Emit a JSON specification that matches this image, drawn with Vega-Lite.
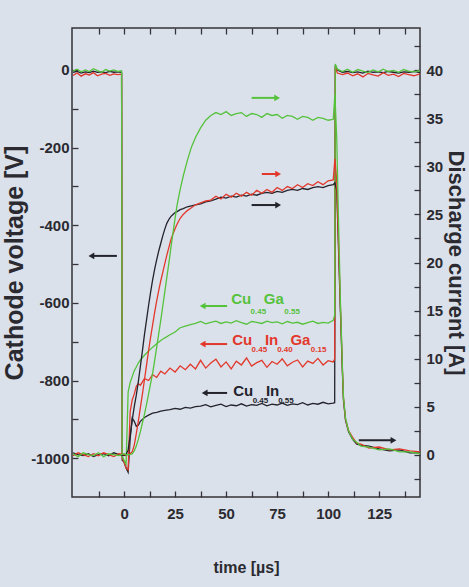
{
  "$schema": "https://vega.github.io/schema/vega-lite/v6.json",
  "width": 348,
  "height": 469,
  "autosize": "none",
  "padding": {"left": 72, "top": 28, "right": 49, "bottom": 90},
  "background": "#dbe1eb",
  "config": {
    "view": {"stroke": "#333338", "strokeWidth": 1.5},
    "font": "Liberation Sans",
    "axis": {
      "domain": false, "grid": false,
      "labelFont": "Liberation Sans", "labelFontWeight": "bold", "labelFontSize": 15,
      "labelColor": "#2a2a30", "tickColor": "#333338", "tickWidth": 1.3,
      "titleFontWeight": "bold", "titleColor": "#2a2a30",
      "labelOverlap": false, "labelFlush": false, "labelBound": false,
      "offset": -6, "tickSize": 6
    }
  },
  "datasets": {
    "volt": [
      {"t":-25,"G":-3,"R":-14,"B":-6},{"t":-23,"G":2,"R":-8,"B":-4},{"t":-21,"G":-5,"R":-16,"B":-8},
      {"t":-19,"G":0,"R":-10,"B":-5},{"t":-17,"G":-4,"R":-13,"B":-7},{"t":-15,"G":3,"R":-7,"B":-3},
      {"t":-13,"G":-2,"R":-15,"B":-6},{"t":-11,"G":-6,"R":-11,"B":-5},{"t":-9,"G":1,"R":-9,"B":-7},
      {"t":-7,"G":-3,"R":-14,"B":-4},{"t":-5,"G":0,"R":-10,"B":-6},{"t":-3,"G":-4,"R":-12,"B":-5},
      {"t":-1.2,"G":-2,"R":-11,"B":-6},{"t":-0.9,"G":-995,"R":-1000,"B":-1005},{"t":0,"G":-1005,"R":-1010,"B":-1010},
      {"t":1,"G":-1015,"R":-1025,"B":-1025},{"t":2,"G":-830,"R":-1030,"B":-1036},{"t":3,"G":-805,"R":-880,"B":-950},
      {"t":4,"G":-790,"R":-850,"B":-897},{"t":5,"G":-775,"R":-835,"B":-905},{"t":6,"G":-765,"R":-815,"B":-918},
      {"t":7,"G":-755,"R":-808,"B":-915},{"t":8,"G":-747,"R":-812,"B":-905},{"t":10,"G":-735,"R":-795,"B":-895},
      {"t":12,"G":-724,"R":-800,"B":-889},{"t":14,"G":-714,"R":-785,"B":-884},{"t":16,"G":-705,"R":-792,"B":-882},
      {"t":18,"G":-697,"R":-776,"B":-879},{"t":20,"G":-690,"R":-783,"B":-877},{"t":22.5,"G":-682,"R":-768,"B":-875},
      {"t":25,"G":-675,"R":-778,"B":-872},{"t":27.5,"G":-664,"R":-762,"B":-874},{"t":30,"G":-660,"R":-772,"B":-869},
      {"t":32.5,"G":-656,"R":-758,"B":-871},{"t":35,"G":-653,"R":-770,"B":-867},{"t":37.5,"G":-648,"R":-748,"B":-866},
      {"t":40,"G":-654,"R":-768,"B":-862},{"t":42.5,"G":-650,"R":-755,"B":-868},{"t":45,"G":-647,"R":-745,"B":-864},
      {"t":47.5,"G":-653,"R":-765,"B":-861},{"t":50,"G":-649,"R":-752,"B":-867},{"t":52.5,"G":-652,"R":-770,"B":-863},
      {"t":55,"G":-646,"R":-750,"B":-865},{"t":57.5,"G":-651,"R":-760,"B":-860},{"t":60,"G":-655,"R":-742,"B":-866},
      {"t":62.5,"G":-648,"R":-763,"B":-862},{"t":65,"G":-650,"R":-754,"B":-864},{"t":67.5,"G":-653,"R":-748,"B":-859},
      {"t":70,"G":-647,"R":-766,"B":-865},{"t":72.5,"G":-651,"R":-751,"B":-861},{"t":75,"G":-649,"R":-758,"B":-863},
      {"t":77.5,"G":-654,"R":-744,"B":-858},{"t":80,"G":-648,"R":-762,"B":-864},{"t":82.5,"G":-652,"R":-753,"B":-860},
      {"t":85,"G":-650,"R":-747,"B":-862},{"t":87.5,"G":-655,"R":-765,"B":-857},{"t":90,"G":-651,"R":-750,"B":-863},
      {"t":92.5,"G":-647,"R":-756,"B":-859},{"t":95,"G":-653,"R":-743,"B":-861},{"t":97.5,"G":-650,"R":-760,"B":-856},
      {"t":100,"G":-652,"R":-749,"B":-860},{"t":102.5,"G":-645,"R":-752,"B":-858},{"t":103.2,"G":-632,"R":-745,"B":-857},
      {"t":103.5,"G":15,"R":8,"B":12},{"t":104.5,"G":2,"R":-8,"B":0},{"t":107,"G":-4,"R":-12,"B":-6},
      {"t":109.5,"G":2,"R":-8,"B":-4},{"t":112,"G":-6,"R":-15,"B":-7},{"t":114.5,"G":1,"R":-10,"B":-5},
      {"t":117,"G":-3,"R":-18,"B":-8},{"t":119.5,"G":-7,"R":-9,"B":-3},{"t":122,"G":0,"R":-13,"B":-6},
      {"t":124.5,"G":-5,"R":-16,"B":-5},{"t":127,"G":2,"R":-7,"B":-7},{"t":129.5,"G":-4,"R":-14,"B":-4},
      {"t":132,"G":-1,"R":-11,"B":-6},{"t":134.5,"G":-6,"R":-17,"B":-8},{"t":137,"G":1,"R":-9,"B":-5},
      {"t":139.5,"G":-3,"R":-12,"B":-6},{"t":142,"G":-5,"R":-15,"B":-4},{"t":145,"G":-2,"R":-10,"B":-7}
    ],
    "curr": [
      {"t":-25,"G":0.1,"R":-0.1,"B":0.2},{"t":-22.5,"G":-0.2,"R":0.2,"B":0},{"t":-20,"G":0.2,"R":0,"B":-0.1},
      {"t":-17.5,"G":0,"R":-0.2,"B":0.1},{"t":-15,"G":-0.1,"R":0.1,"B":-0.2},{"t":-12.5,"G":0.2,"R":-0.1,"B":0},
      {"t":-10,"G":-0.2,"R":0.2,"B":0.1},{"t":-7.5,"G":0.1,"R":0,"B":-0.1},{"t":-5,"G":0,"R":-0.2,"B":0.2},
      {"t":-2.5,"G":-0.1,"R":0.1,"B":0},{"t":0,"G":0.1,"R":0,"B":-0.1},{"t":1,"G":0,"R":0,"B":0},
      {"t":2,"G":0,"R":0,"B":0.5},{"t":3,"G":0,"R":0.1,"B":2},{"t":4,"G":0.1,"R":0.3,"B":3.6},
      {"t":5,"G":0.4,"R":1.0,"B":5.0},{"t":6,"G":0.9,"R":2.2,"B":6.2},{"t":7,"G":1.6,"R":3.5,"B":7.6},
      {"t":8,"G":2.4,"R":4.9,"B":9.2},{"t":9,"G":3.3,"R":6.3,"B":10.8},{"t":10,"G":4.2,"R":7.8,"B":12.5},
      {"t":11,"G":5.2,"R":9.3,"B":14.0},{"t":12,"G":6.3,"R":10.8,"B":15.5},{"t":13,"G":7.4,"R":12.2,"B":16.9},
      {"t":14,"G":8.5,"R":13.5,"B":18.2},{"t":15,"G":9.8,"R":14.8,"B":19.3},{"t":16,"G":11.2,"R":16.0,"B":20.3},
      {"t":17,"G":12.6,"R":17.1,"B":21.2},{"t":18,"G":14.0,"R":18.1,"B":22.0},{"t":19,"G":15.5,"R":19.0,"B":22.8},
      {"t":20,"G":17.0,"R":19.9,"B":23.5},{"t":21,"G":18.5,"R":20.8,"B":24.1},{"t":22,"G":20.0,"R":21.6,"B":24.5},
      {"t":23,"G":21.6,"R":22.4,"B":24.8},{"t":24,"G":23.1,"R":23.0,"B":25.0},{"t":25,"G":24.6,"R":23.5,"B":25.2},
      {"t":26,"G":26.0,"R":24.0,"B":25.3},{"t":27.5,"G":27.6,"R":24.6,"B":25.5},{"t":29,"G":29.0,"R":25.0,"B":25.6},
      {"t":31,"G":30.6,"R":25.4,"B":25.8},{"t":33,"G":32.0,"R":25.7,"B":25.9},{"t":35,"G":33.0,"R":26.0,"B":26.0},
      {"t":37.5,"G":34.0,"R":26.2,"B":26.1},{"t":40,"G":34.8,"R":26.4,"B":26.3},{"t":42.5,"G":35.3,"R":26.5,"B":26.4},
      {"t":45,"G":35.6,"R":26.9,"B":26.6},{"t":47.5,"G":35.4,"R":26.6,"B":26.8},{"t":50,"G":35.7,"R":27.1,"B":26.7},
      {"t":52.5,"G":35.3,"R":26.8,"B":26.9},{"t":55,"G":35.5,"R":27.2,"B":26.8},{"t":57.5,"G":35.6,"R":26.9,"B":27.0},
      {"t":60,"G":35.2,"R":27.3,"B":26.9},{"t":62.5,"G":35.5,"R":27.0,"B":27.1},{"t":65,"G":35.4,"R":27.5,"B":27.0},
      {"t":67.5,"G":35.1,"R":27.2,"B":27.2},{"t":70,"G":35.5,"R":27.6,"B":27.3},{"t":72.5,"G":35.3,"R":27.3,"B":27.2},
      {"t":75,"G":35.4,"R":27.8,"B":27.4},{"t":77.5,"G":35.0,"R":27.5,"B":27.3},{"t":80,"G":35.3,"R":27.9,"B":27.5},
      {"t":82.5,"G":35.2,"R":27.7,"B":27.6},{"t":85,"G":34.9,"R":28.1,"B":27.5},{"t":87.5,"G":35.2,"R":27.8,"B":27.7},
      {"t":90,"G":35.1,"R":28.2,"B":27.6},{"t":92.5,"G":34.8,"R":28.0,"B":27.8},{"t":95,"G":35.1,"R":28.4,"B":27.9},
      {"t":97.5,"G":35.0,"R":28.1,"B":27.8},{"t":100,"G":34.8,"R":28.5,"B":28.0},{"t":102.5,"G":34.9,"R":28.6,"B":28.1},
      {"t":103.3,"G":37.5,"R":30.8,"B":28.3},{"t":104.2,"G":33,"R":28.5,"B":27.5},{"t":105,"G":25,"R":22.5,"B":22},
      {"t":106,"G":16,"R":15.5,"B":15},{"t":107,"G":9,"R":8.8,"B":8.5},{"t":107.5,"G":6,"R":5.9,"B":5.7},
      {"t":108.5,"G":3.8,"R":3.7,"B":3.6},{"t":110,"G":2.5,"R":2.5,"B":2.4},{"t":112,"G":1.6,"R":1.8,"B":1.6},
      {"t":114,"G":1.3,"R":1.2,"B":1.1},{"t":116,"G":0.9,"R":1.1,"B":1.0},{"t":120,"G":0.8,"R":0.7,"B":0.9},
      {"t":125,"G":0.5,"R":0.8,"B":0.6},{"t":130,"G":0.6,"R":0.5,"B":0.4},{"t":135,"G":0.3,"R":0.6,"B":0.5},
      {"t":140,"G":0.3,"R":0.4,"B":0.2},{"t":145,"G":0.1,"R":0.3,"B":0.2}
    ],
    "arrows": [
      {"t":62.5,"t2":75,"v":-72,"m":"G"},
      {"t":67.5,"t2":75.5,"v":-268,"m":"R"},
      {"t":62.5,"t2":75.5,"v":-348,"m":"B"},
      {"t":-3.5,"t2":-16,"v":-479,"m":"B"},
      {"t":50.5,"t2":38.5,"v":-608,"m":"G"},
      {"t":50.5,"t2":38.5,"v":-706,"m":"R"},
      {"t":50.5,"t2":39.5,"v":-832,"m":"B"},
      {"t":115,"t2":132,"v":-954,"m":"B"}
    ],
    "heads": [
      {"t":75,"v":-72,"m":"G","d":"R"},
      {"t":75.5,"v":-268,"m":"R","d":"R"},
      {"t":75.5,"v":-348,"m":"B","d":"R"},
      {"t":-16,"v":-479,"m":"B","d":"L"},
      {"t":38.5,"v":-608,"m":"G","d":"L"},
      {"t":38.5,"v":-706,"m":"R","d":"L"},
      {"t":39.5,"v":-832,"m":"B","d":"L"},
      {"t":132,"v":-954,"m":"B","d":"R"}
    ],
    "labels": [
      {"t":52.5,"v":-591,"s":"Cu","m":"G","k":"main"},
      {"t":62,"v":-623,"s":"0.45","m":"G","k":"sub"},
      {"t":68.5,"v":-591,"s":"Ga","m":"G","k":"main"},
      {"t":78.5,"v":-623,"s":"0.55","m":"G","k":"sub"},
      {"t":53,"v":-695,"s":"Cu","m":"R","k":"main"},
      {"t":62.5,"v":-721,"s":"0.45","m":"R","k":"sub"},
      {"t":69,"v":-695,"s":"In","m":"R","k":"main"},
      {"t":75,"v":-721,"s":"0.40","m":"R","k":"sub"},
      {"t":81.5,"v":-695,"s":"Ga","m":"R","k":"main"},
      {"t":91.5,"v":-721,"s":"0.15","m":"R","k":"sub"},
      {"t":53.5,"v":-827,"s":"Cu","m":"B","k":"main"},
      {"t":63,"v":-853,"s":"0.45","m":"B","k":"sub"},
      {"t":69.5,"v":-827,"s":"In","m":"B","k":"main"},
      {"t":75.5,"v":-853,"s":"0.55","m":"B","k":"sub"}
    ]
  },
  "layer": [
    {
      "encoding": {
        "x": {
          "field": "t", "type": "quantitative",
          "scale": {"domain": [-25.5, 145], "nice": false, "zero": false},
          "title": "time [µs]",
          "axis": {
            "values": [-12.5,0,12.5,25,37.5,50,62.5,75,87.5,100,112.5,125,137.5],
            "labelExpr": "datum.value % 25 === 0 ? '' + datum.value : ''",
            "labelPadding": 9,
            "titleFont": "Liberation Sans", "titleFontSize": 16, "titlePadding": 38
          }
        },
        "y": {
          "field": "v", "type": "quantitative",
          "scale": {"domain": [-1100, 108], "nice": false, "zero": false},
          "title": "Cathode voltage [V]",
          "axis": {
            "values": [-1000,-900,-800,-700,-600,-500,-400,-300,-200,-100,0],
            "labelExpr": "datum.value % 200 === 0 ? '' + datum.value : ''",
            "labelPadding": 3,
            "titleFont": "Liberation Sans", "titleFontSize": 25, "titlePadding": 3
          }
        }
      },
      "layer": [
        {
          "data": {"name": "volt"},
          "transform": [{"fold": ["B", "R", "G"], "as": ["m", "v"]}],
          "mark": {"type": "line", "strokeWidth": 1.3},
          "encoding": {
            "color": {"field": "m", "type": "nominal", "legend": null,
              "scale": {"domain": ["G", "R", "B"], "range": ["#55c23c", "#e2382b", "#23232b"]}}
          }
        },
        {
          "data": {"name": "arrows"},
          "mark": {"type": "rule", "strokeWidth": 2},
          "encoding": {
            "x2": {"field": "t2"},
            "color": {"field": "m", "type": "nominal", "legend": null,
              "scale": {"domain": ["G", "R", "B"], "range": ["#55c23c", "#e2382b", "#23232b"]}}
          }
        },
        {
          "data": {"name": "heads"},
          "mark": {"type": "point", "filled": true, "opacity": 1, "size": 45},
          "encoding": {
            "shape": {"field": "d", "type": "nominal", "legend": null,
              "scale": {"domain": ["L", "R"], "range": ["triangle-left", "triangle-right"]}},
            "color": {"field": "m", "type": "nominal", "legend": null,
              "scale": {"domain": ["G", "R", "B"], "range": ["#55c23c", "#e2382b", "#23232b"]}}
          }
        },
        {
          "data": {"name": "labels"},
          "transform": [{"filter": "datum.k === 'main'"}],
          "mark": {"type": "text", "align": "left", "baseline": "middle", "font": "Liberation Sans", "fontWeight": "bold", "fontSize": 15},
          "encoding": {
            "text": {"field": "s"},
            "color": {"field": "m", "type": "nominal", "legend": null,
              "scale": {"domain": ["G", "R", "B"], "range": ["#55c23c", "#e2382b", "#23232b"]}}
          }
        },
        {
          "data": {"name": "labels"},
          "transform": [{"filter": "datum.k === 'sub'"}],
          "mark": {"type": "text", "align": "left", "baseline": "middle", "font": "Liberation Sans", "fontWeight": "bold", "fontSize": 8},
          "encoding": {
            "text": {"field": "s"},
            "color": {"field": "m", "type": "nominal", "legend": null,
              "scale": {"domain": ["G", "R", "B"], "range": ["#55c23c", "#e2382b", "#23232b"]}}
          }
        }
      ]
    },
    {
      "data": {"name": "curr"},
      "transform": [{"fold": ["B", "R", "G"], "as": ["m", "a"]}],
      "mark": {"type": "line", "strokeWidth": 1.3},
      "encoding": {
        "x": {
          "field": "t", "type": "quantitative",
          "scale": {"domain": [-25.5, 145], "nice": false, "zero": false},
          "axis": {
            "orient": "top", "labels": false, "title": null,
            "values": [-12.5,0,12.5,25,37.5,50,62.5,75,87.5,100,112.5,125,137.5]
          }
        },
        "y": {
          "field": "a", "type": "quantitative",
          "scale": {"domain": [-4.4, 44.4], "nice": false, "zero": false},
          "title": "Discharge current [A]",
          "axis": {
            "orient": "right",
            "values": [-2.5,0,2.5,5,7.5,10,12.5,15,17.5,20,22.5,25,27.5,30,32.5,35,37.5,40,42.5],
            "labelExpr": "datum.value % 5 === 0 ? '' + datum.value : ''",
            "labelPadding": 6,
            "titleFont": "Liberation Sans", "titleFontSize": 22, "titlePadding": 1
          }
        },
        "color": {"field": "m", "type": "nominal", "legend": null,
          "scale": {"domain": ["G", "R", "B"], "range": ["#55c23c", "#e2382b", "#23232b"]}}
      }
    }
  ],
  "resolve": {"scale": {"y": "independent"}, "axis": {"x": "independent"}}
}
